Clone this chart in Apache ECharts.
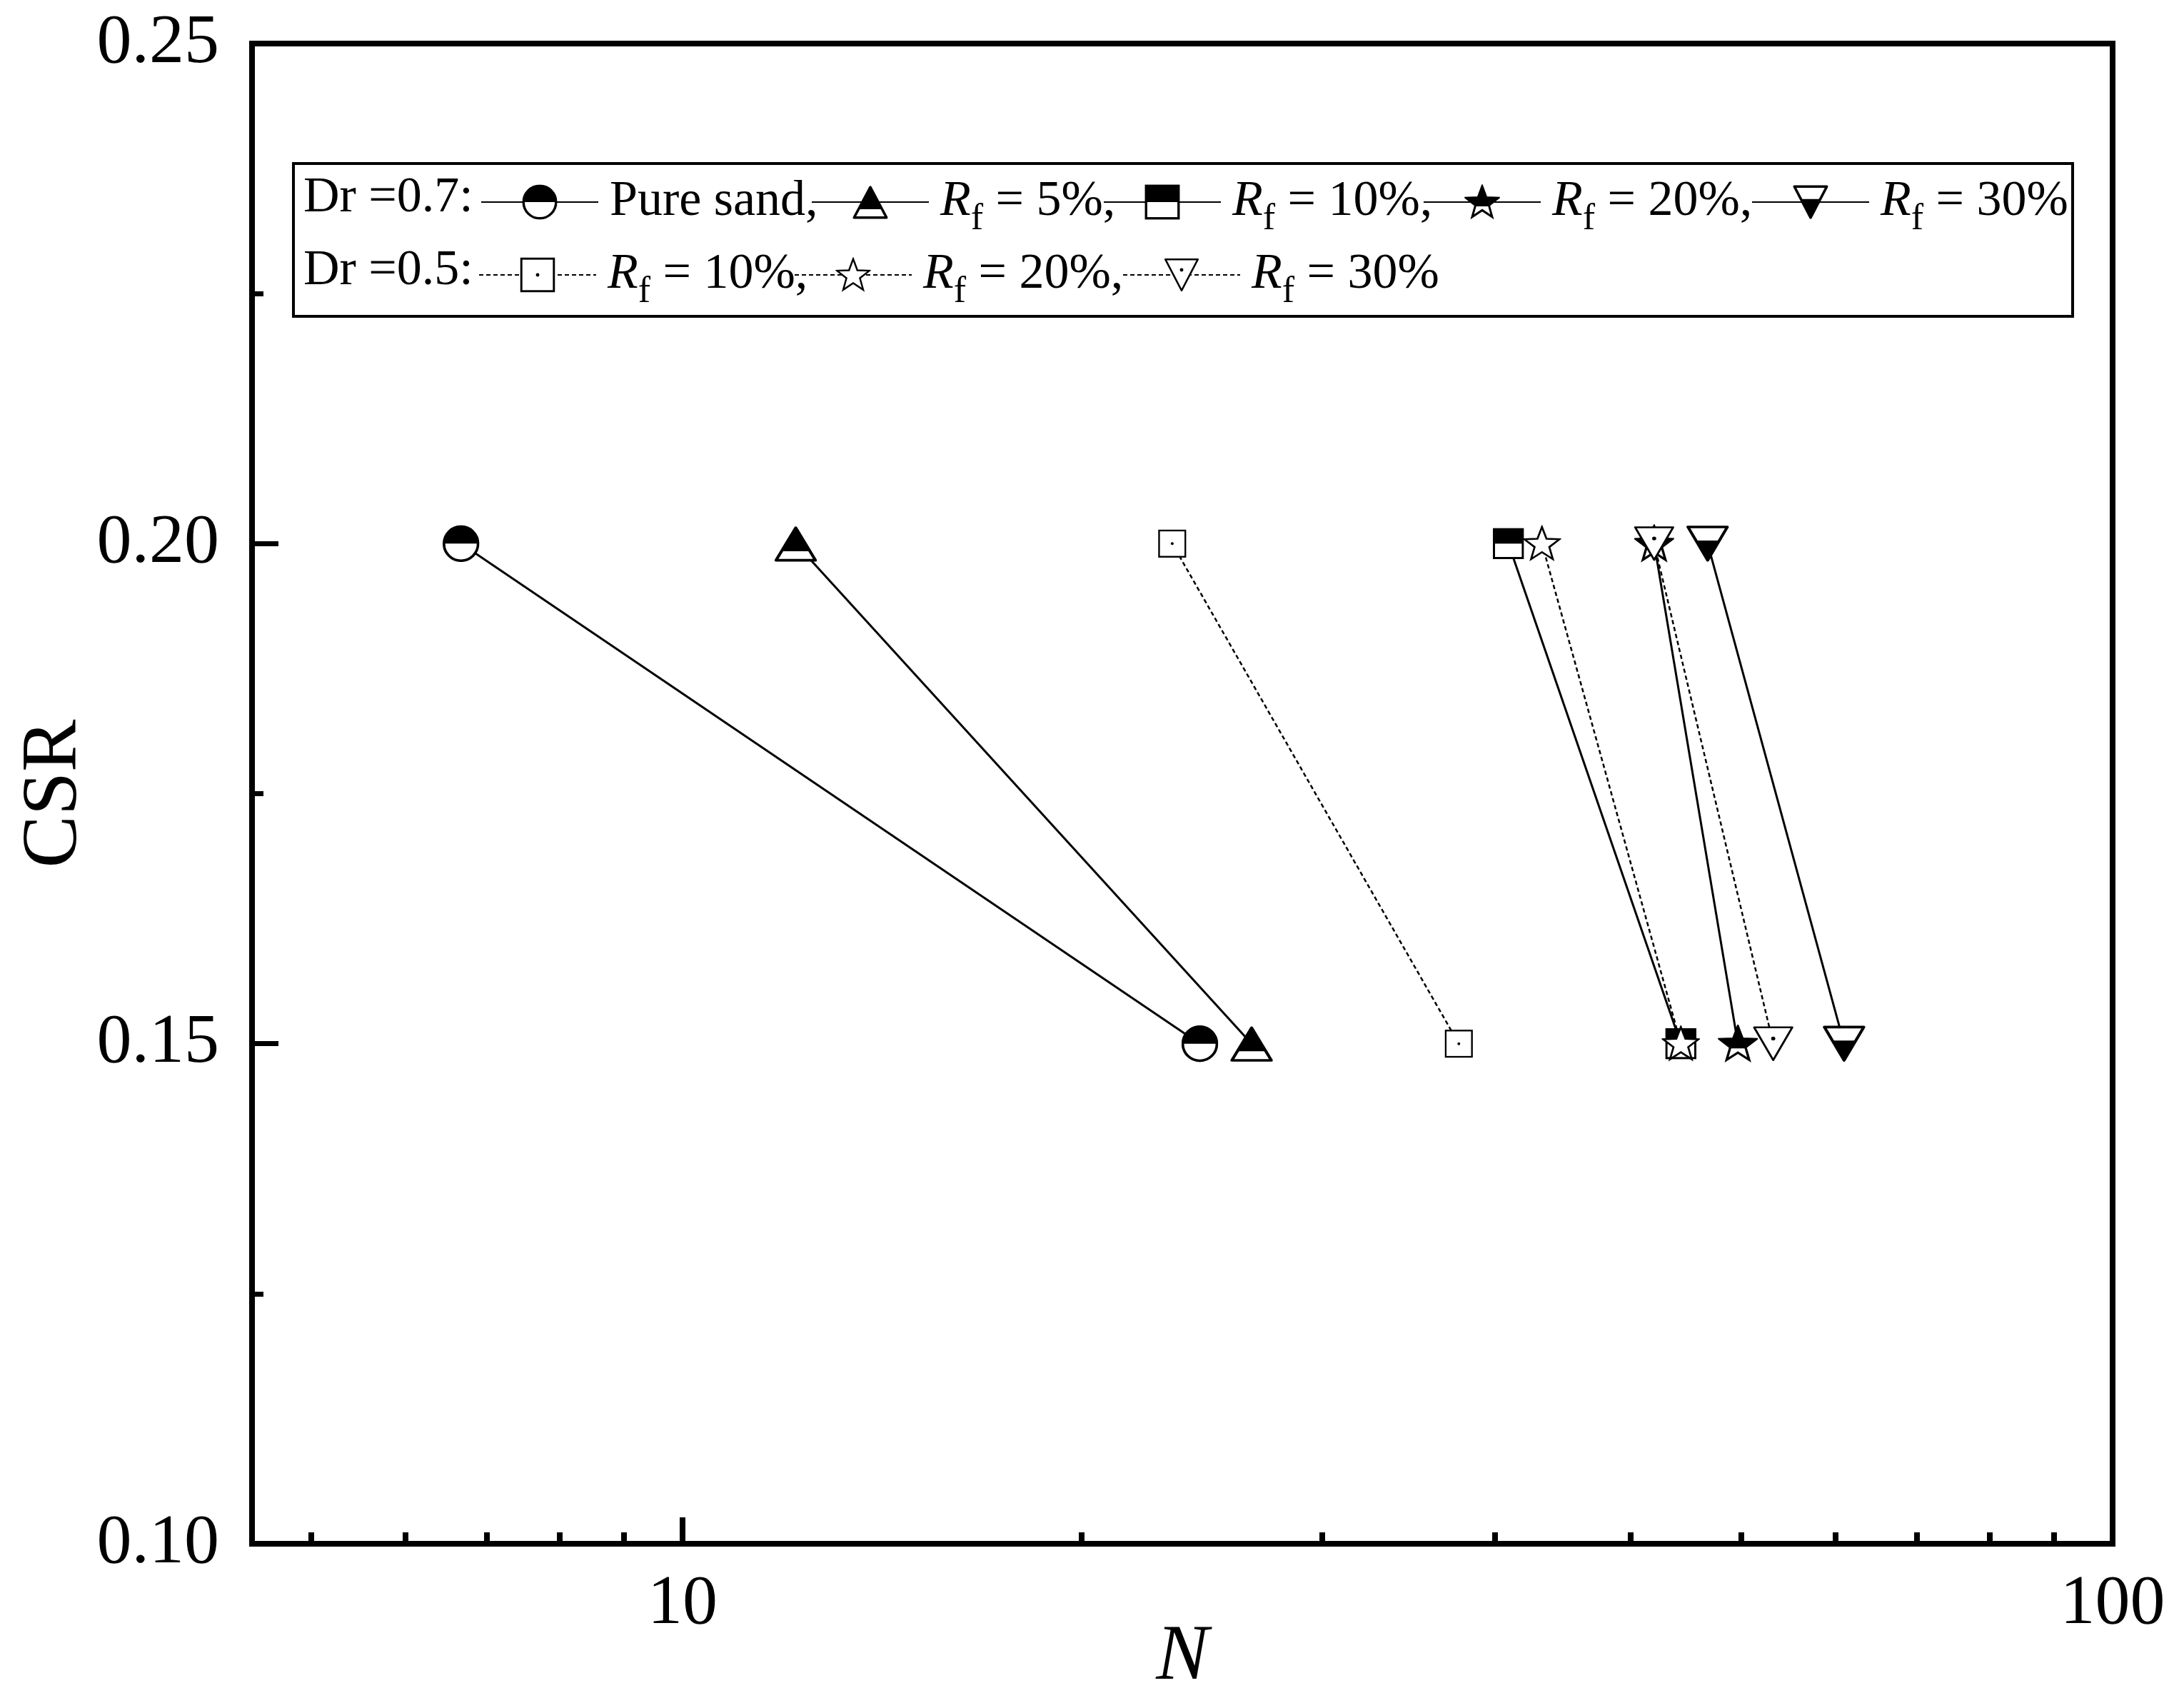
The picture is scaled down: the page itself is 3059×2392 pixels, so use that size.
<!DOCTYPE html>
<html>
<head>
<meta charset="utf-8">
<script src="https://cdn.jsdelivr.net/npm/echarts@6/dist/echarts.min.js"></script>
<style>
html,body{margin:0;padding:0;background:#fff;}
#chart{width:3059px;height:2392px;}
</style>
</head>
<body>
<div id="chart"></div>
<script>
// ---------------- data ----------------
const csrLevels = [0.20, 0.15];
const nDr07Pure = [7.0, 23.0];
const nDr07Rf5  = [12.0, 25.0];
const nDr07Rf10 = [37.8, 49.9];
const nDr07Rf20 = [47.8, 54.7];
const nDr07Rf30 = [52.1, 64.9];
const nDr05Rf10 = [22.0, 34.9];
const nDr05Rf20 = [39.9, 49.9];
const nDr05Rf30 = [47.8, 57.9];
const xMinorTicks = [5.5, 6.4, 7.3, 8.2, 9.1, 19, 28, 37, 46, 55, 64, 73, 82, 91];
const row1Labels = ['Pure sand,', 'R_f = 5%,', 'R_f = 10%,', 'R_f = 20%,', 'R_f = 30%'];
const row2Labels = ['R_f = 10%,', 'R_f = 20%,', 'R_f = 30%'];
const rowPrefixes = ['Dr =0.7:', 'Dr =0.5:'];

// ---------------- marker drawings ----------------
const FONT = '"Liberation Serif", "Times New Roman", serif';
function svgSym(body) {
  const s = '<svg xmlns="http://www.w3.org/2000/svg" viewBox="0 0 100 100" preserveAspectRatio="none" width="100" height="100">' + body + '</svg>';
  return 'image://data:image/svg+xml;charset=utf-8,' + encodeURIComponent(s);
}
function starPts(cx, cy, R, r) {
  const p = [];
  for (let k = 0; k < 10; k++) {
    const a = -Math.PI / 2 + k * Math.PI / 5;
    const rad = k % 2 ? r : R;
    p.push((cx + rad * Math.cos(a)).toFixed(2) + ',' + (cy + rad * Math.sin(a)).toFixed(2));
  }
  return p.join(' ');
}
const SP = starPts(50, 53, 48, 20);
const symCircleHalf = svgSym('<circle cx="50" cy="50" r="46" fill="#fff"/><path d="M4 50 A46 46 0 0 1 96 50 Z" fill="#000"/><circle cx="50" cy="50" r="46" fill="none" stroke="#000" stroke-width="7"/>');
const symTriUpHalf = svgSym('<polygon points="50,8 4,94 96,94" fill="#fff"/><polygon points="50,8 16.8,70 83.2,70" fill="#000"/><polygon points="50,8 4,94 96,94" fill="none" stroke="#000" stroke-width="7" stroke-linejoin="round"/>');
const symSquareHalf = svgSym('<rect x="4" y="4" width="92" height="92" fill="#fff"/><rect x="4" y="4" width="92" height="46" fill="#000"/><rect x="4" y="4" width="92" height="92" fill="none" stroke="#000" stroke-width="7"/>');
const symStarHalf = svgSym('<defs><clipPath id="c"><rect x="0" y="0" width="100" height="62"/></clipPath></defs><polygon points="' + SP + '" fill="#fff"/><polygon points="' + SP + '" fill="#000" clip-path="url(#c)"/><polygon points="' + SP + '" fill="none" stroke="#000" stroke-width="6"/>');
const symTriDownHalf = svgSym('<polygon points="4,6 96,6 50,94" fill="#fff"/><polygon points="22.6,41.6 77.4,41.6 50,94" fill="#000"/><polygon points="4,6 96,6 50,94" fill="none" stroke="#000" stroke-width="7" stroke-linejoin="round"/>');
const symSquareDot = svgSym('<rect x="4" y="4" width="92" height="92" fill="#fff" stroke="#000" stroke-width="6"/><circle cx="50" cy="50" r="5" fill="#000"/>');
const symStarHollow = svgSym('<polygon points="' + SP + '" fill="#fff" stroke="#000" stroke-width="5"/>');
const symTriDownDot = svgSym('<polygon points="4,6 96,6 50,94" fill="#fff" stroke="#000" stroke-width="5" stroke-linejoin="round"/><circle cx="50" cy="36" r="5" fill="#000"/>');

// ---------------- series ----------------
const seriesDefs = [
  {id: 'd7p',  n: nDr07Pure, sym: symCircleHalf,  size: [52, 52], dash: 'solid', label: row1Labels[0]},
  {id: 'd7r5', n: nDr07Rf5,  sym: symTriUpHalf,   size: [60, 53], dash: 'solid', label: row1Labels[1]},
  {id: 'd7r10',n: nDr07Rf10, sym: symSquareHalf,  size: [44, 44], dash: 'solid', label: row1Labels[2]},
  {id: 'd7r20',n: nDr07Rf20, sym: symStarHalf,    size: [56, 54], dash: 'solid', label: row1Labels[3]},
  {id: 'd7r30',n: nDr07Rf30, sym: symTriDownHalf, size: [60, 53], dash: 'solid', label: row1Labels[4]},
  {id: 'd5r10',n: nDr05Rf10, sym: symSquareDot,   size: [40, 40], dash: [6, 4], label: row2Labels[0]},
  {id: 'd5r20',n: nDr05Rf20, sym: symStarHollow,  size: [54, 52], dash: [6, 4], label: row2Labels[1]},
  {id: 'd5r30',n: nDr05Rf30, sym: symTriDownDot,  size: [58, 52], dash: [6, 4], label: row2Labels[2]}
];

const series = seriesDefs.map(d => ({
  name: d.id,
  type: 'line',
  data: d.n.map((v, i) => [v, csrLevels[i]]),
  symbol: d.sym,
  symbolSize: d.size,
  lineStyle: {color: '#000', width: d.dash === 'solid' ? 3 : 2.5, type: d.dash},
  itemStyle: {color: '#000'},
  emphasis: {disabled: true},
  animation: false
}));

// ---------------- legend ----------------
function richLabel(s) {
  if (s.indexOf('R_f') === 0) return '{g| }{i|R}{s|f}{n|' + s.slice(3) + '}';
  return '{g| }{n|' + s + '}';
}
const rich = {
  g: {width: 11, fontSize: 70, fontFamily: FONT, lineHeight: 100},
  n: {fontSize: 70, fontFamily: FONT, color: '#000', lineHeight: 100},
  i: {fontSize: 70, fontFamily: FONT, fontStyle: 'italic', color: '#000', lineHeight: 100},
  s: {fontSize: 52, fontFamily: FONT, color: '#000', lineHeight: 48, verticalAlign: 'bottom'}
};
const row1Centers = [755, 1218, 1627, 2075, 2535];
const row2Centers = [752, 1194, 1654];
const rowY = [278, 380];
const ITEM_W = 164, ITEM_H = 62;
const legends = [];
seriesDefs.forEach((d, idx) => {
  const row = idx < 5 ? 0 : 1;
  const cx = row === 0 ? row1Centers[idx] : row2Centers[idx - 5];
  legends.push({
    data: [d.id],
    left: cx - ITEM_W / 2,
    top: rowY[row] - 30,
    padding: 0,
    itemWidth: ITEM_W,
    itemHeight: ITEM_H,
    selectedMode: false,
    formatter: () => richLabel(d.label),
    textStyle: {fontFamily: FONT, fontSize: 70, color: '#000', rich: rich}
  });
});

const chart = echarts.init(document.getElementById('chart'), null, {renderer: 'canvas'});
chart.setOption({
  backgroundColor: '#fff',
  animation: false,
  grid: {left: 353, right: 100, top: 61, bottom: 230, show: true, borderColor: '#000', borderWidth: 8,
         backgroundColor: 'transparent', containLabel: false, outerBoundsMode: 'none'},
  xAxis: [
    {
      type: 'log', logBase: 10, min: 5, max: 100,
      name: 'N', nameLocation: 'middle', nameGap: 105, nameMoveOverlap: false,
      nameTextStyle: {fontFamily: FONT, fontStyle: 'italic', fontSize: 110, color: '#000'},
      axisLine: {lineStyle: {color: '#000', width: 8}},
      axisTick: {inside: true, length: 37, lineStyle: {color: '#000', width: 8}},
      axisLabel: {fontFamily: FONT, fontSize: 98, color: '#000', margin: 36, showMinLabel: false, showMaxLabel: true,
                  formatter: v => String(Math.round(v))},
      splitLine: {show: false}
    },
    {
      type: 'value', min: Math.log10(5), max: 2, position: 'bottom',
      axisLine: {show: false},
      axisLabel: {show: false},
      splitLine: {show: false},
      axisTick: {show: true, inside: true, length: 16, lineStyle: {color: '#000', width: 8},
                 customValues: xMinorTicks.map(v => Math.log10(v))}
    }
  ],
  yAxis: {
    type: 'value', min: 0.10, max: 0.25, interval: 0.05,
    name: 'CSR', nameLocation: 'middle', nameGap: 221, nameMoveOverlap: false,
    nameTextStyle: {fontFamily: FONT, fontSize: 110, color: '#000'},
    axisLine: {lineStyle: {color: '#000', width: 8}},
    axisTick: {inside: true, length: 37, lineStyle: {color: '#000', width: 7}},
    minorTick: {show: true, splitNumber: 2, length: 16, lineStyle: {color: '#000', width: 7}},
    axisLabel: {fontFamily: FONT, fontSize: 98, color: '#000', margin: 46, formatter: v => v.toFixed(2)},
    splitLine: {show: false}
  },
  legend: legends,
  graphic: [
    {type: 'rect', shape: {x: 411, y: 229, width: 2492, height: 214}, style: {fill: 'none', stroke: '#000', lineWidth: 4}, z: 100},
    {type: 'text', x: 425, y: rowY[0], style: {text: rowPrefixes[0], fontFamily: FONT, fontSize: 70, fill: '#000', verticalAlign: 'middle'}, z: 100},
    {type: 'text', x: 425, y: rowY[1], style: {text: rowPrefixes[1], fontFamily: FONT, fontSize: 70, fill: '#000', verticalAlign: 'middle'}, z: 100}
  ],
  series: series
});
</script>
</body>
</html>
